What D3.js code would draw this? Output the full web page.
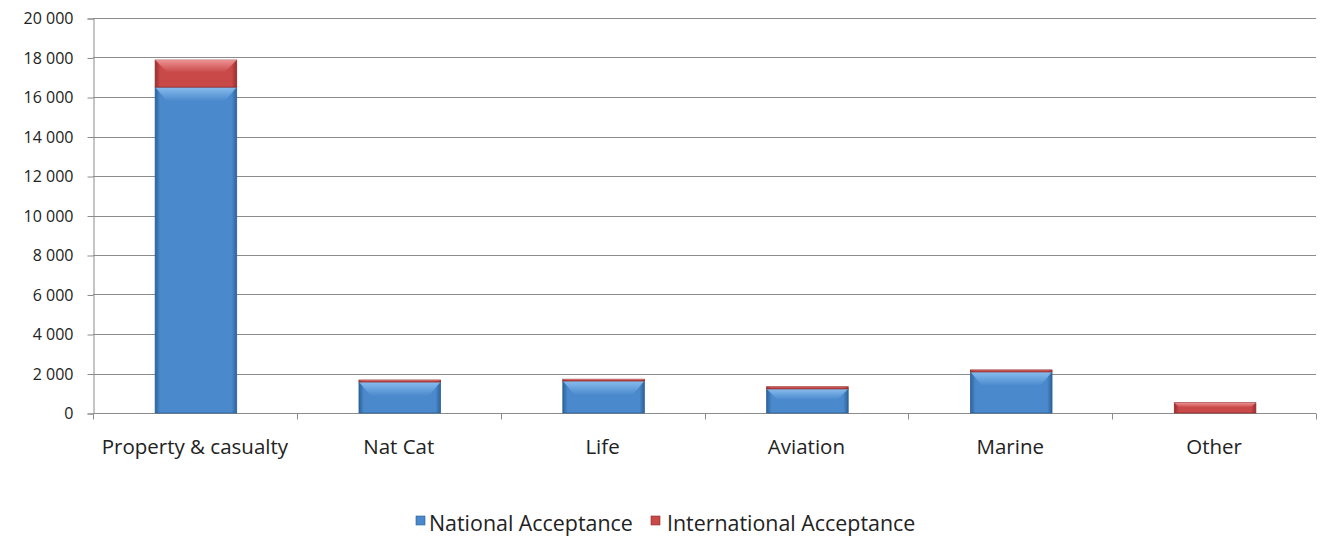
<!DOCTYPE html>
<html>
<head>
<meta charset="utf-8">
<script src="https://cdn.jsdelivr.net/npm/d3@7"></script>
<style>
  html, body { margin: 0; padding: 0; background: #fff; }
  svg text { font-family: "Open Sans", Lato, sans-serif; fill: #222; }
</style>
</head>
<body>
<div id="chart"></div>
<script>
// chart data
const categories = ["Property & casualty", "Nat Cat", "Life", "Aviation", "Marine", "Other"];
const national = [16500, 1570, 1620, 1220, 2080, 0];
const international = [1370, 100, 90, 110, 100, 520];
const seriesNames = ["National Acceptance", "International Acceptance"];
const yTicks = [0, 2000, 4000, 6000, 8000, 10000, 12000, 14000, 16000, 18000, 20000];

const width = 1320, height = 536;
const margin = {top: 18, right: 4, bottom: 123, left: 93};

const svg = d3.select("#chart").append("svg")
    .attr("width", width)
    .attr("height", height);

const x = d3.scaleBand()
    .domain(categories)
    .range([margin.left, width - margin.right])
    .paddingInner(0.6)
    .paddingOuter(0.3);

const y = d3.scaleLinear()
    .domain([0, 20000])
    .range([height - margin.bottom, margin.top]);

const fmt = v => d3.format(",")(v).replace(/,/g, " ");

// gradients for the bevelled bars
const defs = svg.append("defs");
function bevel(id, dark, mid, light) {
  const g = defs.append("linearGradient").attr("id", id).attr("x1", 0).attr("x2", 1).attr("y1", 0).attr("y2", 0);
  g.append("stop").attr("offset", "0%").attr("stop-color", dark);
  g.append("stop").attr("offset", "6%").attr("stop-color", mid);
  g.append("stop").attr("offset", "94%").attr("stop-color", mid);
  g.append("stop").attr("offset", "100%").attr("stop-color", dark);
  const h = defs.append("linearGradient").attr("id", id + "-top").attr("x1", 0).attr("x2", 0).attr("y1", 0).attr("y2", 1);
  h.append("stop").attr("offset", "0%").attr("stop-color", light).attr("stop-opacity", 0.9);
  h.append("stop").attr("offset", "100%").attr("stop-color", light).attr("stop-opacity", 0);
}
bevel("blue", "#2c639c", "#4a89cc", "#8fc3f2");
bevel("red", "#9a2e2e", "#c94949", "#f29a9a");

// gridlines
svg.append("g")
  .selectAll("line")
  .data(yTicks.filter(d => d > 0))
  .join("line")
    .attr("x1", margin.left)
    .attr("x2", width - margin.right)
    .attr("y1", d => Math.round(y(d)) + 0.5)
    .attr("y2", d => Math.round(y(d)) + 0.5)
    .attr("stroke", "#8c8c8c")
    .attr("stroke-width", 1);

// y axis
const yAxis = svg.append("g")
    .attr("transform", `translate(${margin.left + 0.5},0.5)`)
    .call(d3.axisLeft(y).tickValues(yTicks).tickFormat(fmt).tickSize(6).tickPadding(14));
yAxis.select(".domain").attr("stroke", "#8c8c8c");
yAxis.selectAll(".tick line").attr("stroke", "#8c8c8c");
yAxis.selectAll("text").style("font-size", "16px").attr("fill", "#222");

// x axis with ticks on slot boundaries
const slot = (width - margin.right - margin.left) / categories.length;
const xg = svg.append("g").attr("transform", `translate(0,${Math.round(y(0)) + 0.5})`);
xg.append("line")
    .attr("x1", margin.left).attr("x2", width - margin.right)
    .attr("stroke", "#8c8c8c");
xg.selectAll(".bound")
  .data(d3.range(categories.length + 1))
  .join("line")
    .attr("class", "bound")
    .attr("x1", i => Math.round(margin.left + i * slot) + 0.5)
    .attr("x2", i => Math.round(margin.left + i * slot) + 0.5)
    .attr("y1", 0).attr("y2", 6)
    .attr("stroke", "#8c8c8c");
xg.selectAll("text")
  .data(categories)
  .join("text")
    .attr("x", d => x(d) + x.bandwidth() / 2)
    .attr("y", 40)
    .attr("text-anchor", "middle")
    .style("font-size", "20.5px")
    .text(d => d);

// stacked bars
const stackData = categories.map((c, i) => ({cat: c, nat: national[i], intl: international[i]}));
const stacked = d3.stack().keys(["nat", "intl"])(stackData);
const fills = ["blue", "red"];

stacked.forEach((layer, li) => {
  const g = svg.append("g");
  layer.forEach(d => {
    const x0 = x(d.data.cat) + 1, bw = x.bandwidth();
    const yTop = y(d[1]), yBot = y(d[0]);
    const h = yBot - yTop;
    if (h <= 0) return;
    g.append("rect")
        .attr("x", x0).attr("y", yTop)
        .attr("width", bw).attr("height", h)
        .attr("fill", `url(#${fills[li]})`)
        .attr("stroke", li === 0 ? "#2d5f94" : "#8f2b2b")
        .attr("stroke-width", 0.8);
    const bh = Math.min(h * 0.45, 14);
    const inset = Math.min(bh, 12);
    g.append("path")
        .attr("d", `M${x0},${yTop} L${x0 + bw},${yTop} L${x0 + bw - inset},${yTop + bh} L${x0 + inset},${yTop + bh} Z`)
        .attr("fill", `url(#${fills[li]}-top)`);
  });
});

// legend
const legend = svg.append("g").attr("transform", `translate(0,531)`);
const swatchX = [416, 651];
const labelX = [429, 667];
seriesNames.forEach((name, i) => {
  legend.append("rect")
      .attr("x", swatchX[i]).attr("y", -15)
      .attr("width", 9).attr("height", 9)
      .attr("fill", `url(#${fills[i]})`)
      .attr("stroke", i === 0 ? "#2d5f94" : "#8f2b2b")
      .attr("stroke-width", 0.6);
  legend.append("text")
      .attr("x", labelX[i]).attr("y", 0)
      .style("font-size", "21.4px")
      .text(name);
});
</script>
</body>
</html>
